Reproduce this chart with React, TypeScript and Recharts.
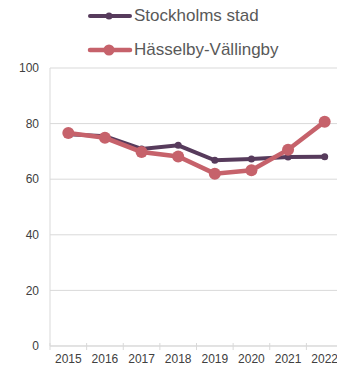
import { LineChart, Line, XAxis, YAxis, CartesianGrid, Legend } from 'recharts';

const years = ['2015', '2016', '2017', '2018', '2019', '2020', '2021', '2022'];
const stockholm = [76.2, 75.5, 70.9, 72.2, 66.8, 67.3, 68.0, 68.1];
const hasselby = [76.6, 74.9, 69.8, 68.2, 62.0, 63.2, 70.6, 80.7];
const yTicks = [0, 20, 40, 60, 80, 100];

const series = [
  { key: 'stockholm', name: 'Stockholms stad', color: '#573b5c', width: 4, r: 3.5 },
  { key: 'hasselby', name: 'Hässelby-Vällingby', color: '#c6626b', width: 4.5, r: 6 },
];

const data = years.map((year, i) => ({
  year,
  stockholm: stockholm[i],
  hasselby: hasselby[i],
}));

// legend drawn by hand: two stacked rows with a line+dot icon
const LegendRows = () => (
  <div style={{ height: 68, paddingLeft: 87 }}>
    <div style={{ position: 'relative', top: -1 }}>
      {series.map((s) => (
        <div key={s.key} style={{ display: 'flex', alignItems: 'center', height: 34 }}>
          <svg width={46} height={14}>
            <line x1={3} y1={7} x2={43} y2={7} stroke={s.color} strokeWidth={s.width} strokeLinecap="round" />
            <circle cx={22} cy={7} r={s.key === 'hasselby' ? 5.5 : 3.5} fill={s.color} />
          </svg>
          <span style={{ fontSize: 17, color: '#595959', marginLeft: 1 }}>{s.name}</span>
        </div>
      ))}
    </div>
  </div>
);

// year label under the band centre, tick mark on the band's left edge (Excel style)
const YearTick = (props: any) => {
  const { x, y, payload } = props;
  const half = 18.3;
  return (
    <g>
      <line x1={x - half} y1={y - 5} x2={x - half} y2={y + 2} stroke="#d9d9d9" />
      <text x={x} y={y + 6} dy="0.71em" textAnchor="middle" fill="#404040" fontSize={12}>
        {payload.value}
      </text>
    </g>
  );
};

export default function App() {
  return (
    <div
      style={{
        position: 'absolute',
        left: 0,
        top: 0,
        width: 337,
        height: 365,
        overflow: 'hidden',
        background: '#fff',
        fontFamily: '"Liberation Sans", Arial, sans-serif',
      }}
    >
      <LineChart width={345} height={365} data={data} margin={{ top: 0, right: 2, left: 0, bottom: 0 }}>
        <CartesianGrid vertical={false} stroke="#d9d9d9" />
        <XAxis
          dataKey="year"
          scale="band"
          height={19}
          stroke="#d9d9d9"
          tickLine={false}
          tickSize={0}
          tick={<YearTick />}
          interval={0}
        />
        <YAxis
          width={50}
          domain={[0, 100]}
          ticks={yTicks}
          stroke="#d9d9d9"
          tickLine={false}
          tickSize={0}
          tickMargin={11}
          tick={{ fill: '#404040', fontSize: 12 }}
        />
        <Legend
          verticalAlign="top"
          content={<LegendRows />}
          wrapperStyle={{ top: 0, left: 0, width: 345 }}
        />
        {series.map((s) => (
          <Line
            key={s.key}
            dataKey={s.key}
            name={s.name}
            stroke={s.color}
            strokeWidth={s.width}
            dot={{ r: s.r, fill: s.color, stroke: s.color, strokeWidth: 0 }}
            activeDot={false}
            isAnimationActive={false}
          />
        ))}
      </LineChart>
    </div>
  );
}
